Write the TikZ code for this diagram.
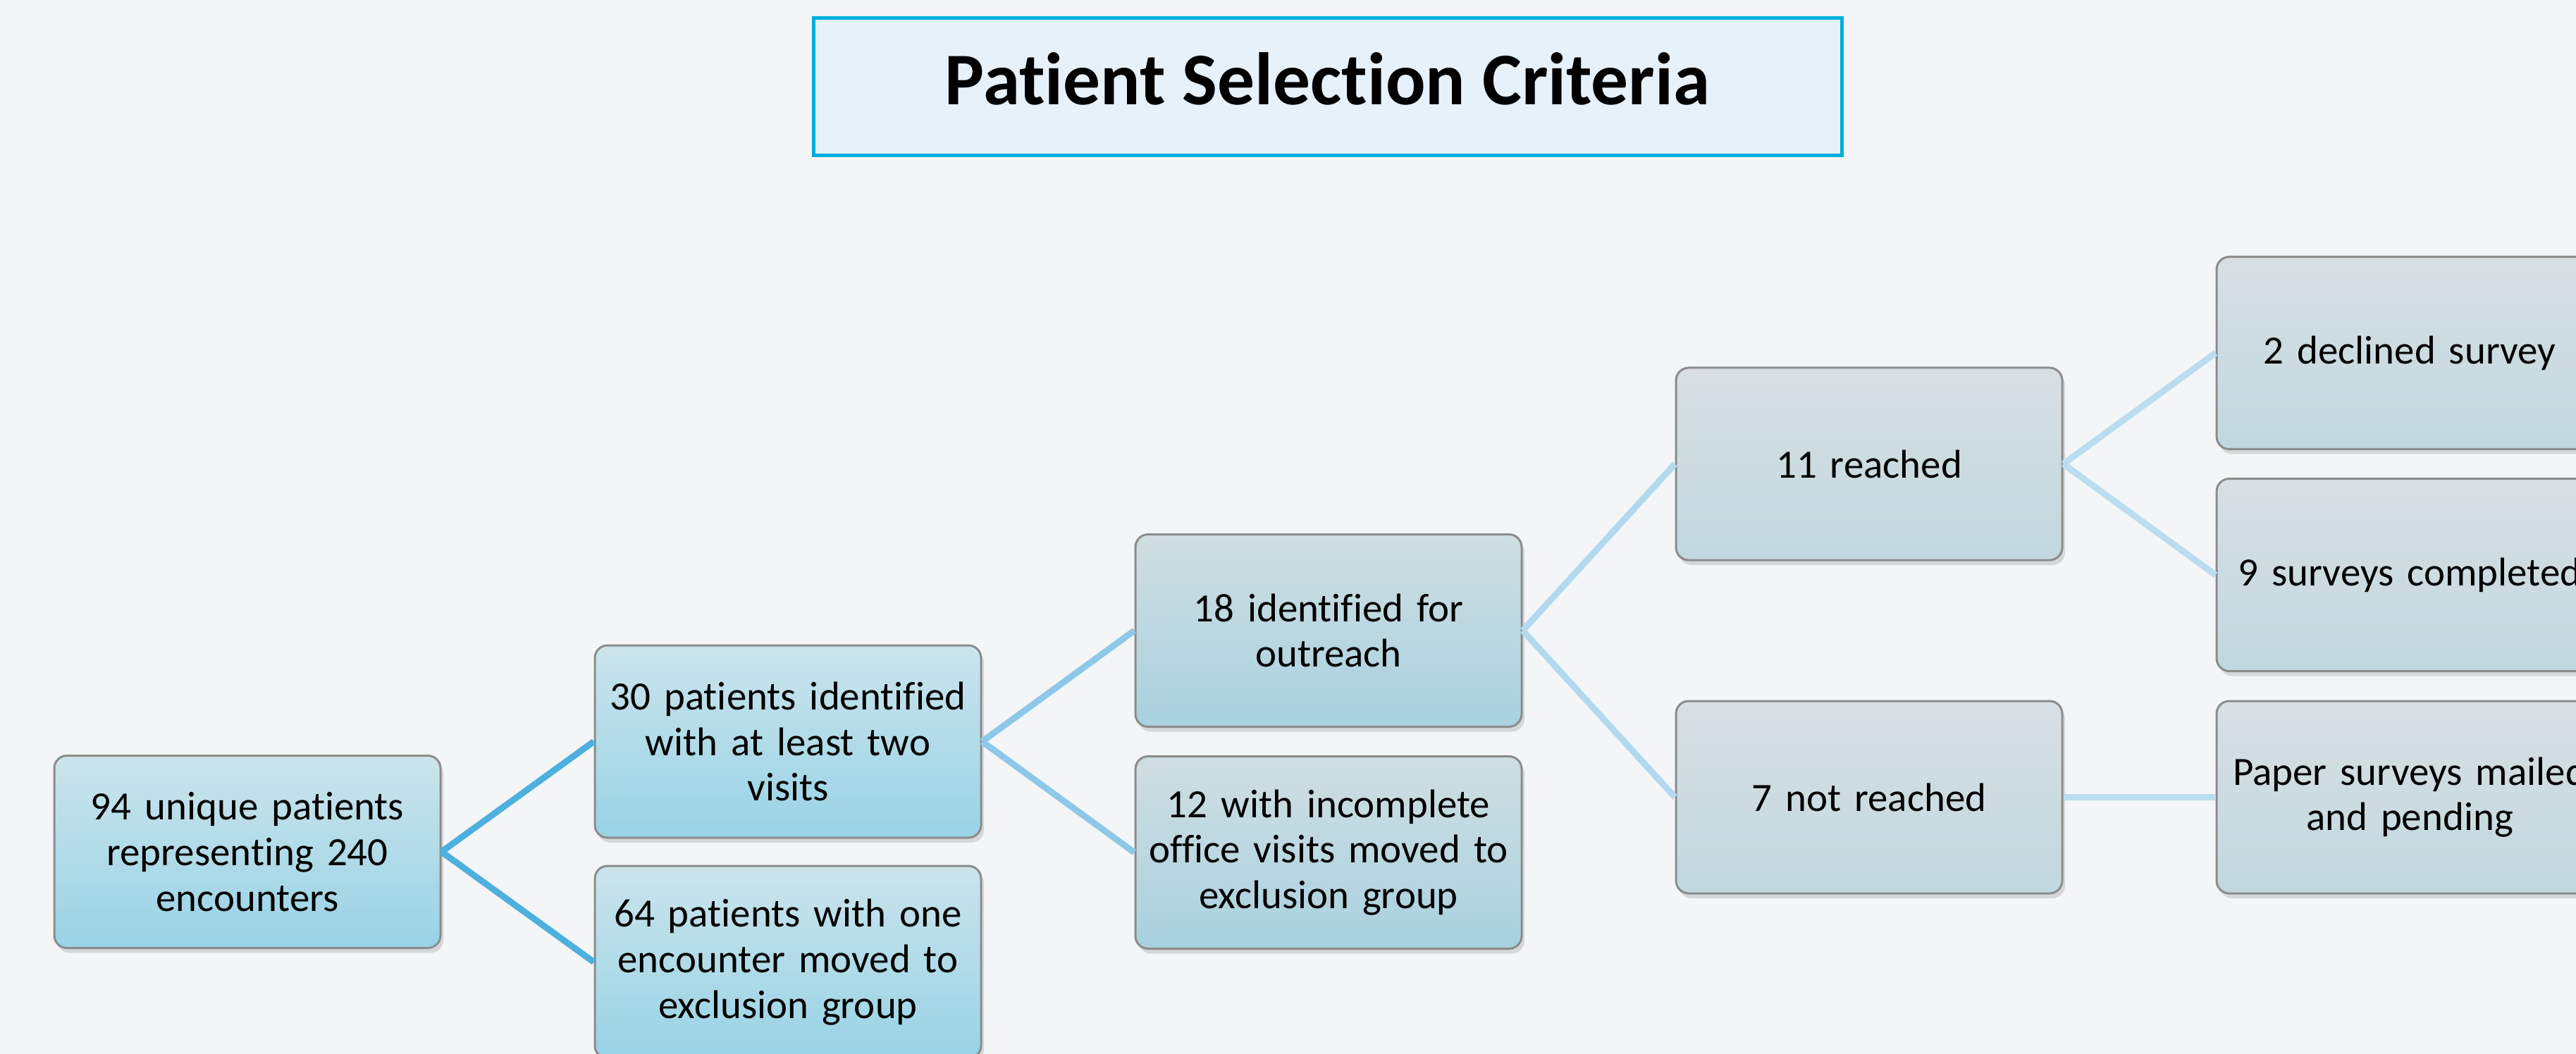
\documentclass[tikz,border=0pt]{standalone}
\usepackage{fontspec}
\setmainfont{Carlito}[Ligatures=CommonOff]
\usepackage{tikz}
\usetikzlibrary{shadows,trees}

\definecolor{bgcol}{HTML}{F3F5F6}
\definecolor{titleline}{HTML}{00AEDD}
\definecolor{titlefill}{HTML}{E6F1FA}
\definecolor{lineA}{HTML}{4DB0DF}
\definecolor{lineB}{HTML}{8DC8E8}
\definecolor{lineC}{HTML}{B2D9EF}
\definecolor{lineD}{HTML}{BADDF0}
\definecolor{blueTop}{HTML}{CBE4EB}
\definecolor{blueBot}{HTML}{98D3E6}
\definecolor{midTop}{HTML}{D0DEE2}
\definecolor{midBot}{HTML}{A8D1DF}
\definecolor{greyTop}{HTML}{D8DFE2}
\definecolor{greyBot}{HTML}{C1D8E0}

\tikzset{
	box/.style={draw=gray!90, line width=0.03cm, rounded corners=0.18cm,
		minimum width=5.48cm, minimum height=2.73cm, text width=5.2cm,
		align=center, inner sep=0.1cm, font=\fontsize{16.2}{18.4}\selectfont,
		drop shadow={shadow xshift=0.04cm, shadow yshift=-0.07cm, opacity=0.25}},
	bluebox/.style={box, top color=blueTop, bottom color=blueBot},
	midbox/.style={box, top color=midTop, bottom color=midBot},
	greybox/.style={box, top color=greyTop, bottom color=greyBot},
	titlebox/.style={draw=titleline, fill=titlefill, line width=0.05cm,
		minimum width=14.59cm, minimum height=1.95cm, text depth=0.24cm,
		font=\fontsize{30}{34}\selectfont\bfseries}
}

\begin{document}
\begin{tikzpicture}
\useasboundingbox (0,0) rectangle (36.55,-14.96);
\fill[bgcol] (0,0) rectangle (36.55,-14.96);

\node[titlebox] (title) at (18.835,-1.235) {Patient Selection Criteria};

\path[grow'=right, level distance=7.67cm,
	edge from parent path={(\tikzparentnode.east) -- (\tikzchildnode.west)},
	level 1/.style={sibling distance=3.13cm, edge from parent/.style={draw=lineA, line width=0.09cm}},
	level 2/.style={sibling distance=3.15cm, edge from parent/.style={draw=lineB, line width=0.09cm}},
	level 3/.style={sibling distance=4.73cm, edge from parent/.style={draw=lineC, line width=0.09cm}},
	level 4/.style={sibling distance=3.15cm, edge from parent/.style={draw=lineD, line width=0.09cm}}]
node[bluebox] (total) at (3.51,-12.09) {94 unique patients\\representing 240\\encounters}
	child { node[bluebox] (twovisits) {30 patients identified\\with at least two\\visits}
		child { node[midbox] (outreach) {18 identified for\\outreach}
			child { node[greybox] (reached) {11 reached}
				child { node[greybox] (declined) {2 declined survey} }
				child { node[greybox] (completed) {9 surveys completed} }
			}
			child { node[greybox] (notreached) {7 not reached}
				child { node[greybox] (mailed) {Paper surveys mailed\\and pending} }
			}
		}
		child { node[midbox] (incomplete) {12 with incomplete\\office visits moved to\\exclusion group} }
	}
	child { node[bluebox] (onevisit) {64 patients with one\\encounter moved to\\exclusion group} }
;
\end{tikzpicture}
\end{document}
